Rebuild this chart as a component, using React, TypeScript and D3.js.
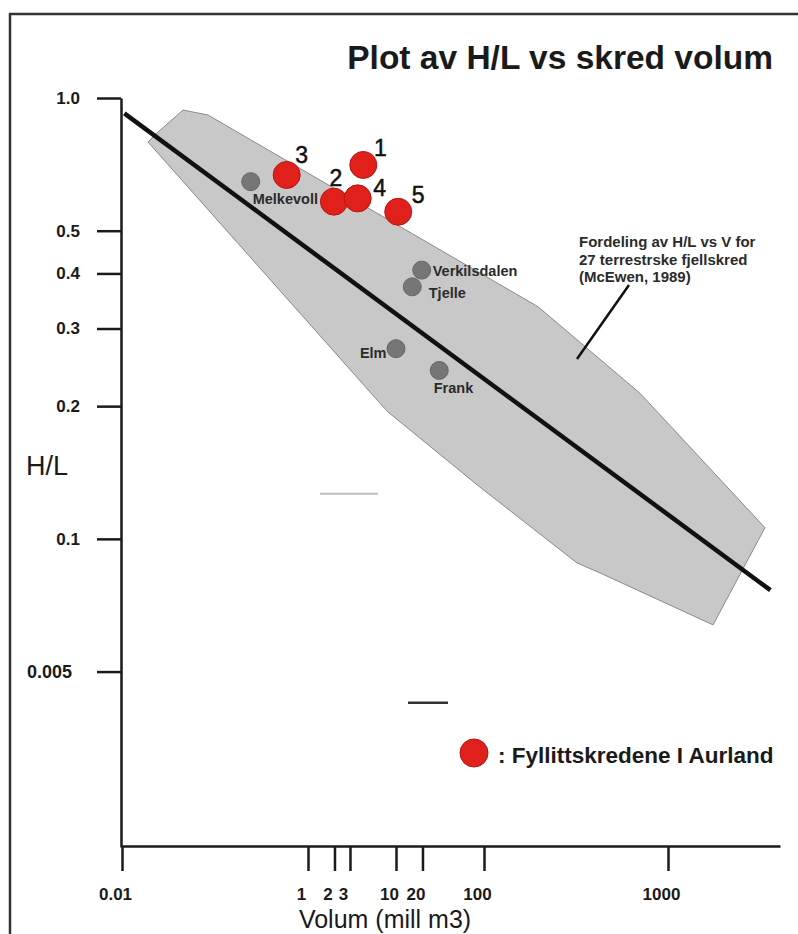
import React, { useEffect, useRef } from "react";
import * as d3 from "d3";

// Axis breakpoints (volume, mill m3) and their tick labels
const volumeBreaks = [0.01, 1, 10, 100, 1000, 4060];
const xTickValues = [0.01, 1, 2, 3, 10, 20, 100, 1000];
const xTickLabels = ["0.01", "1", "2", "3", "10", "20", "100", "1000"];
const yTickValues = [1, 0.5, 0.4, 0.3, 0.2, 0.1, 0.05];
const yTickLabels = ["1.0", "0.5", "0.4", "0.3", "0.2", "0.1", "0.005"];

// Envelope of H/L vs V for 27 terrestrial rock avalanches (McEwen, 1989)
const envelopeVolume = [0.019, 0.0244, 0.0453, 0.0841, 197, 704, 3365, 1757, 427, 320, 90, 8.11, 6.58];
const envelopeHL = [0.795, 0.837, 0.939, 0.915, 0.336, 0.214, 0.106, 0.0638, 0.0837, 0.0882, 0.131, 0.194, 0.203];

// Regression line
const trendVolume = [0.0106, 3600];
const trendHL = [0.923, 0.0765];

// Fyllitt slides in Aurland
const aurlandIds = ["1", "2", "3", "4", "5"];
const aurlandVolume = [4.25, 1.97, 0.59, 3.67, 10.6];
const aurlandHL = [0.705, 0.582, 0.669, 0.592, 0.552];

// Known reference slides
const referenceNames = ["Melkevoll", "Verkilsdalen", "Tjelle", "Elm", "Frank"];
const referenceVolume = [0.242, 19.6, 15.3, 10, 31.0];
const referenceHL = [0.646, 0.407, 0.373, 0.27, 0.241];

// Short stray strokes in the drawing
const greyStrokeVolume = [1.37, 6.24];
const greyStrokeHL = 0.1265;
const darkStrokeVolume = [13.7, 39];
const darkStrokeHL = 0.0425;

const FONT = "'Liberation Sans', Arial, Helvetica, sans-serif";

// Label placement around markers (pixels)
const aurlandLabelOffset: Record<string, [number, number]> = {
  "1": [17, -9],
  "2": [2, -16],
  "3": [15, -12],
  "4": [22, -2],
  "5": [20, -9],
};
const referenceLabelOffset: Record<string, [number, number, string]> = {
  Melkevoll: [2, 22.5, "start"],
  Verkilsdalen: [11, 5.5, "start"],
  Tjelle: [16.5, 11.5, "start"],
  Elm: [-9.5, 9, "end"],
  Frank: [-5.5, 22.5, "start"],
};

export default function App() {
  const xAxisRef = useRef<SVGGElement>(null);
  const yAxisRef = useRef<SVGGElement>(null);

  const x = d3
    .scaleLog()
    .domain(volumeBreaks)
    .range([122, 308, 396, 484, 668, 780]);
  const y = d3.scaleLog().domain([1, 0.02]).range([98, 847]);

  const xAxisY = 846;
  const yAxisX = 121;

  useEffect(() => {
    if (xAxisRef.current) {
      const g = d3.select(xAxisRef.current);
      g.selectAll("*").remove();
      g.call(
        d3
          .axisBottom(x)
          .tickValues(xTickValues)
          .tickFormat((d: any) => xTickLabels[xTickValues.indexOf(d)])
          .tickSize(25)
          .tickSizeOuter(0)
          .tickPadding(17)
      );
      g.attr("font-family", FONT).attr("font-size", 17).attr("font-weight", "bold");
      g.selectAll("path.domain").attr("stroke", "#1a1a1a").attr("stroke-width", 2.5);
      g.selectAll(".tick line").attr("stroke", "#1a1a1a").attr("stroke-width", 2.5);
      g.selectAll(".tick text").attr("fill", "#1a1a1a").attr("dx", -7);
    }
    if (yAxisRef.current) {
      const g = d3.select(yAxisRef.current);
      g.selectAll("*").remove();
      g.call(
        d3
          .axisLeft(y)
          .tickValues(yTickValues)
          .tickFormat((d: any) => yTickLabels[yTickValues.indexOf(d)])
          .tickSize(24)
          .tickSizeOuter(0)
          .tickPadding(17)
      );
      g.attr("font-family", FONT).attr("font-size", 17).attr("font-weight", "bold");
      g.selectAll("path.domain").attr("stroke", "#1a1a1a").attr("stroke-width", 2.5);
      g.selectAll(".tick line").attr("stroke", "#1a1a1a").attr("stroke-width", 2.5);
      g.selectAll(".tick text")
        .attr("fill", "#1a1a1a")
        .attr("dx", (d: any) => (d < 0.1 ? -8 : 0))
        .attr("font-size", (d: any) => (d < 0.1 ? 18 : 17));
    }
  }, []);

  const envelopePath = d3
    .line<number>()
    .x((_, i) => x(envelopeVolume[i]))
    .y((_, i) => y(envelopeHL[i]))
    .curve(d3.curveLinearClosed)(envelopeVolume);

  const trendPath = d3
    .line<number>()
    .x((_, i) => x(trendVolume[i]))
    .y((_, i) => y(trendHL[i]))(trendVolume);

  return (
    <svg
      width={798}
      height={934}
      style={{ position: "absolute", left: 0, top: 0, background: "#fff" }}
      fontFamily={FONT}
    >
      <rect x={0} y={0} width={798} height={934} fill="#fff" />
      <rect x={10} y={14} width={820} height={960} fill="none" stroke="#333" strokeWidth={2.5} />

      {/* Title */}
      <text x={773} y={69} textAnchor="end" fontSize={33.5} fontWeight="bold" fill="#1a1a1a">
        Plot av H/L vs skred volum
      </text>

      {/* Envelope */}
      <path d={envelopePath || ""} fill="#c8c8c8" stroke="#8a8a8a" strokeWidth={1} />

      {/* Annotation */}
      <g fontSize={15} fontWeight="bold" fill="#2b2b2b" style={{ whiteSpace: "pre" }}>
        <text x={579} y={247}>{"Fordeling av  H/L vs V for"}</text>
        <text x={579} y={264.5}>27 terrestrske fjellskred</text>
        <text x={579} y={282}>(McEwen, 1989)</text>
      </g>
      <line x1={577} y1={359} x2={629} y2={285} stroke="#111" strokeWidth={2.5} />

      {/* Reference slides */}
      {referenceNames.map((name, i) => {
        const cx = x(referenceVolume[i]);
        const cy = y(referenceHL[i]);
        const [dx, dy, anchor] = referenceLabelOffset[name];
        return (
          <g key={name}>
            <circle cx={cx} cy={cy} r={9} fill="#767676" stroke="#666" strokeWidth={1} />
            <text
              x={cx + dx}
              y={cy + dy}
              textAnchor={anchor as any}
              fontSize={14.5}
              fontWeight="bold"
              fill="#2b2b2b"
            >
              {name}
            </text>
          </g>
        );
      })}

      {/* Regression line */}
      <path d={trendPath || ""} fill="none" stroke="#111" strokeWidth={4.5} />

      {/* Aurland slides */}
      {aurlandIds.map((id, i) => {
        const cx = x(aurlandVolume[i]);
        const cy = y(aurlandHL[i]);
        const [dx, dy] = aurlandLabelOffset[id];
        return (
          <g key={id}>
            <circle cx={cx} cy={cy} r={13.5} fill="#e0201b" stroke="#b8140f" strokeWidth={1} />
            <text
              x={cx + dx}
              y={cy + dy}
              textAnchor="middle"
              fontSize={23}
              fill="#111"
              stroke="#111"
              strokeWidth={0.5}
            >
              {id}
            </text>
          </g>
        );
      })}

      {/* Stray strokes */}
      <line
        x1={x(greyStrokeVolume[0])}
        x2={x(greyStrokeVolume[1])}
        y1={y(greyStrokeHL)}
        y2={y(greyStrokeHL)}
        stroke="#bdbdbd"
        strokeWidth={2}
      />
      <line
        x1={x(darkStrokeVolume[0])}
        x2={x(darkStrokeVolume[1])}
        y1={y(darkStrokeHL)}
        y2={y(darkStrokeHL)}
        stroke="#333"
        strokeWidth={2.5}
      />

      {/* Axes */}
      <g ref={yAxisRef} transform={`translate(${yAxisX},0)`} />
      <g ref={xAxisRef} transform={`translate(0,${xAxisY})`} />

      {/* Axis titles */}
      <text x={26} y={475} fontSize={27} fill="#1a1a1a">
        H/L
      </text>
      <text x={385} y={928} textAnchor="middle" fontSize={25} fill="#1a1a1a">
        Volum (mill m3)
      </text>

      {/* Legend */}
      <circle cx={474} cy={753} r={14} fill="#e0201b" stroke="#b8140f" strokeWidth={1} />
      <text x={498} y={763} fontSize={22.5} fontWeight="bold" fill="#1a1a1a">
        : Fyllittskredene I Aurland
      </text>
    </svg>
  );
}
